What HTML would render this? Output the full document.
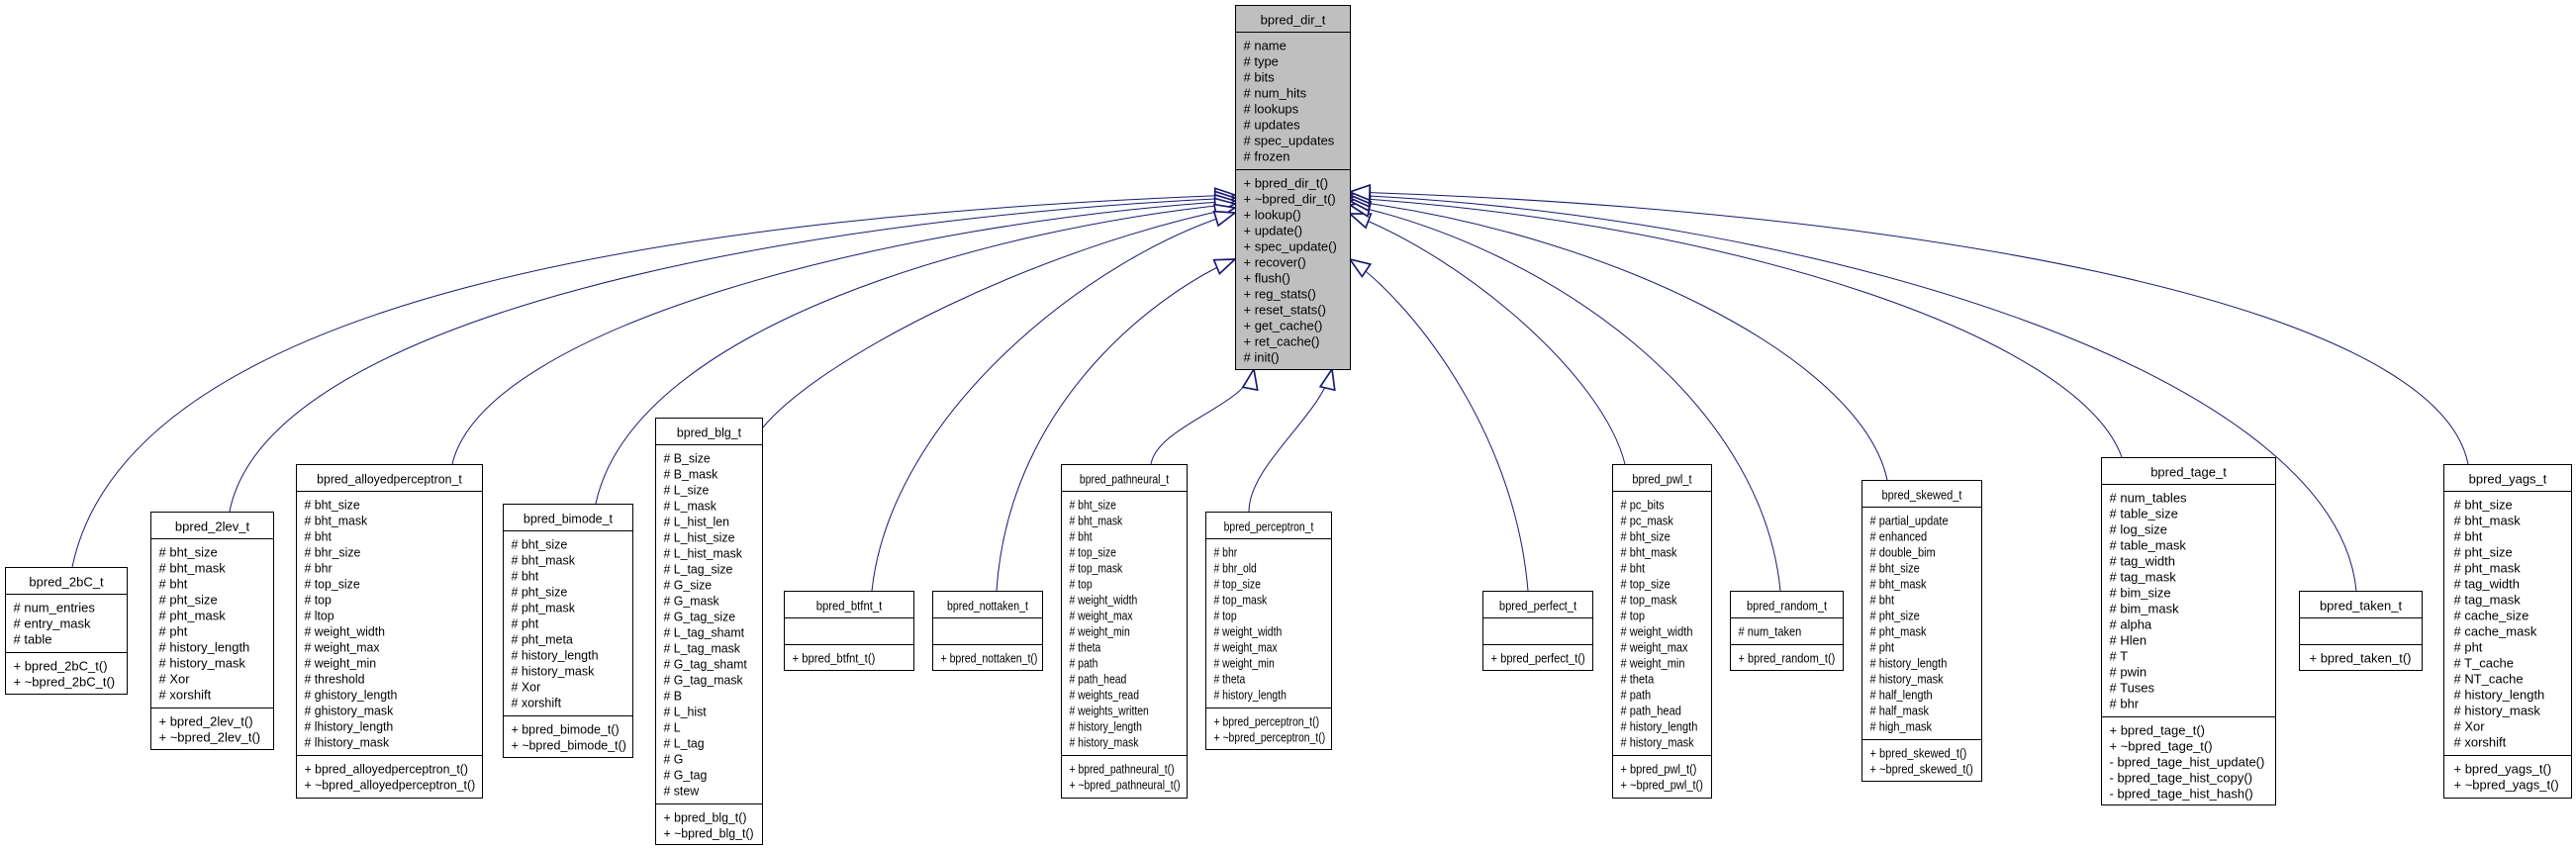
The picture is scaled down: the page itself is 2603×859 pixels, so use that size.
<!DOCTYPE html>
<html><head><meta charset="utf-8"><style>
html,body{margin:0;padding:0;background:#fff;}
svg{display:block;}
text{font-family:"Liberation Sans",Arial,sans-serif;font-size:13px;fill:#000;}
.t{text-anchor:middle;}
rect,.sep{stroke:#000;stroke-width:1;}
rect{fill:#fff;}
.e{fill:none;stroke:#191970;stroke-width:1;}
</style></head><body>
<svg width="2603" height="859" viewBox="0 0 2603 859" xmlns="http://www.w3.org/2000/svg">
<defs>
<marker id="a" markerUnits="userSpaceOnUse" markerWidth="30" markerHeight="30" refX="0" refY="0" orient="auto" viewBox="-16 -8 18 16" overflow="visible">
<path d="M0,0 L-12,-4.5 L-12,4.5 Z" fill="#fff" stroke="#191970" stroke-width="1"/>
</marker>
</defs>

<path class="e" marker-end="url(#a)" d="M73,573 C132,292 719,217 1248,197"/>
<path class="e" marker-end="url(#a)" d="M232,517 C270,320 800,220 1248,200"/>
<path class="e" marker-end="url(#a)" d="M457,469 C490,330 900,225 1248,203"/>
<path class="e" marker-end="url(#a)" d="M602,509 C640,330 1000,230 1248,206"/>
<path class="e" marker-end="url(#a)" d="M770,433 C830,360 1050,250 1248,210"/>
<path class="e" marker-end="url(#a)" d="M881,597 C900,420 1100,260 1248,215"/>
<path class="e" marker-end="url(#a)" d="M1007,597 C1020,400 1180,290 1248,262"/>
<path class="e" marker-end="url(#a)" d="M1163,469 C1170,430 1260,410 1267,373"/>
<path class="e" marker-end="url(#a)" d="M1262,517 C1262,470 1335,420 1346,373"/>
<path class="e" marker-end="url(#a)" d="M1544,597 C1530,430 1420,300 1364,262"/>
<path class="e" marker-end="url(#a)" d="M1642,469 C1620,380 1480,260 1364,216"/>
<path class="e" marker-end="url(#a)" d="M1799,597 C1780,400 1560,250 1364,207"/>
<path class="e" marker-end="url(#a)" d="M1907,485 C1880,360 1620,235 1364,203"/>
<path class="e" marker-end="url(#a)" d="M2144,462 C2100,340 1750,225 1364,200"/>
<path class="e" marker-end="url(#a)" d="M2381,597 C2360,380 1850,220 1364,197"/>
<path class="e" marker-end="url(#a)" d="M2494,469 C2460,300 1900,210 1364,194"/>

<!-- bpred_dir_t -->
<g transform="translate(1248.5,5.5)">
<rect width="116" height="368" style="fill:#bfbfbf"/>
<line class="sep" x1="0" y1="27" x2="116" y2="27"/><line class="sep" x1="0" y1="166" x2="116" y2="166"/>
<text class="t" x="58" y="19">bpred_dir_t</text>
<text x="8" y="45"># name</text><text x="8" y="61"># type</text><text x="8" y="77"># bits</text><text x="8" y="93"># num_hits</text><text x="8" y="109"># lookups</text><text x="8" y="125"># updates</text><text x="8" y="141"># spec_updates</text><text x="8" y="157"># frozen</text>
<text x="8" y="184">+ bpred_dir_t()</text><text x="8" y="200">+ ~bpred_dir_t()</text><text x="8" y="216">+ lookup()</text><text x="8" y="232">+ update()</text><text x="8" y="248">+ spec_update()</text><text x="8" y="264">+ recover()</text><text x="8" y="280">+ flush()</text><text x="8" y="296">+ reg_stats()</text><text x="8" y="312">+ reset_stats()</text><text x="8" y="328">+ get_cache()</text><text x="8" y="344">+ ret_cache()</text><text x="8" y="360"># init()</text>
</g>

<!-- 2bC -->
<g transform="translate(5.5,573.5)">
<rect width="123" height="128"/>
<line class="sep" x1="0" y1="27" x2="123" y2="27"/><line class="sep" x1="0" y1="86" x2="123" y2="86"/>
<text class="t" x="61.5" y="19">bpred_2bC_t</text>
<text x="8" y="45"># num_entries</text><text x="8" y="61"># entry_mask</text><text x="8" y="77"># table</text>
<text x="8" y="104">+ bpred_2bC_t()</text><text x="8" y="120">+ ~bpred_2bC_t()</text>
</g>

<!-- 2lev -->
<g transform="translate(152.5,517.5)">
<rect width="124" height="240"/>
<line class="sep" x1="0" y1="27" x2="124" y2="27"/><line class="sep" x1="0" y1="198" x2="124" y2="198"/>
<text class="t" x="62" y="19">bpred_2lev_t</text>
<text x="8" y="45"># bht_size</text><text x="8" y="61"># bht_mask</text><text x="8" y="77"># bht</text><text x="8" y="93"># pht_size</text><text x="8" y="109"># pht_mask</text><text x="8" y="125"># pht</text><text x="8" y="141"># history_length</text><text x="8" y="157"># history_mask</text><text x="8" y="173"># Xor</text><text x="8" y="189"># xorshift</text>
<text x="8" y="216">+ bpred_2lev_t()</text><text x="8" y="232">+ ~bpred_2lev_t()</text>
</g>

<!-- alloyed s=.95 -->
<g transform="translate(299.5,469.5)">
<rect width="188" height="337"/>
<line class="sep" x1="0" y1="27" x2="188" y2="27"/><line class="sep" x1="0" y1="294" x2="188" y2="294"/>
<g transform="scale(0.95,1)">
<text class="t" x="98.9" y="19">bpred_alloyedperceptron_t</text>
<text x="8.4" y="45"># bht_size</text><text x="8.4" y="61"># bht_mask</text><text x="8.4" y="77"># bht</text><text x="8.4" y="93"># bhr_size</text><text x="8.4" y="109"># bhr</text><text x="8.4" y="125"># top_size</text><text x="8.4" y="141"># top</text><text x="8.4" y="157"># ltop</text><text x="8.4" y="173"># weight_width</text><text x="8.4" y="189"># weight_max</text><text x="8.4" y="205"># weight_min</text><text x="8.4" y="221"># threshold</text><text x="8.4" y="237"># ghistory_length</text><text x="8.4" y="253"># ghistory_mask</text><text x="8.4" y="269"># lhistory_length</text><text x="8.4" y="285"># lhistory_mask</text>
<text x="8.4" y="312">+ bpred_alloyedperceptron_t()</text><text x="8.4" y="328">+ ~bpred_alloyedperceptron_t()</text>
</g></g>

<!-- bimode s=.96 -->
<g transform="translate(508.5,509.5)">
<rect width="131" height="256"/>
<line class="sep" x1="0" y1="27" x2="131" y2="27"/><line class="sep" x1="0" y1="214" x2="131" y2="214"/>
<g transform="scale(0.96,1)">
<text class="t" x="68.2" y="19">bpred_bimode_t</text>
<text x="8.3" y="45"># bht_size</text><text x="8.3" y="61"># bht_mask</text><text x="8.3" y="77"># bht</text><text x="8.3" y="93"># pht_size</text><text x="8.3" y="109"># pht_mask</text><text x="8.3" y="125"># pht</text><text x="8.3" y="141"># pht_meta</text><text x="8.3" y="157"># history_length</text><text x="8.3" y="173"># history_mask</text><text x="8.3" y="189"># Xor</text><text x="8.3" y="205"># xorshift</text>
<text x="8.3" y="232">+ bpred_bimode_t()</text><text x="8.3" y="248">+ ~bpred_bimode_t()</text>
</g></g>

<!-- blg s=.95 -->
<g transform="translate(662.5,422.5)">
<rect width="108" height="431"/>
<line class="sep" x1="0" y1="27" x2="108" y2="27"/><line class="sep" x1="0" y1="390" x2="108" y2="390"/>
<g transform="scale(0.95,1)">
<text class="t" x="56.8" y="19">bpred_blg_t</text>
<text x="8.4" y="45"># B_size</text><text x="8.4" y="61"># B_mask</text><text x="8.4" y="77"># L_size</text><text x="8.4" y="93"># L_mask</text><text x="8.4" y="109"># L_hist_len</text><text x="8.4" y="125"># L_hist_size</text><text x="8.4" y="141"># L_hist_mask</text><text x="8.4" y="157"># L_tag_size</text><text x="8.4" y="173"># G_size</text><text x="8.4" y="189"># G_mask</text><text x="8.4" y="205"># G_tag_size</text><text x="8.4" y="221"># L_tag_shamt</text><text x="8.4" y="237"># L_tag_mask</text><text x="8.4" y="253"># G_tag_shamt</text><text x="8.4" y="269"># G_tag_mask</text><text x="8.4" y="285"># B</text><text x="8.4" y="301"># L_hist</text><text x="8.4" y="317"># L</text><text x="8.4" y="333"># L_tag</text><text x="8.4" y="349"># G</text><text x="8.4" y="365"># G_tag</text><text x="8.4" y="381"># stew</text>
<text x="8.4" y="408">+ bpred_blg_t()</text><text x="8.4" y="424">+ ~bpred_blg_t()</text>
</g></g>

<!-- btfnt s=.87 -->
<g transform="translate(792.5,597.5)">
<rect width="131" height="80"/>
<line class="sep" x1="0" y1="27" x2="131" y2="27"/><line class="sep" x1="0" y1="54" x2="131" y2="54"/>
<g transform="scale(0.87,1)">
<text class="t" x="75.3" y="19">bpred_btfnt_t</text>
<text x="9.2" y="72">+ bpred_btfnt_t()</text>
</g></g>

<!-- nottaken s=.81 -->
<g transform="translate(942.5,597.5)">
<rect width="111" height="80"/>
<line class="sep" x1="0" y1="27" x2="111" y2="27"/><line class="sep" x1="0" y1="54" x2="111" y2="54"/>
<g transform="scale(0.81,1)">
<text class="t" x="68.5" y="19">bpred_nottaken_t</text>
<text x="9.9" y="72">+ bpred_nottaken_t()</text>
</g></g>

<!-- pathneural s=.8 -->
<g transform="translate(1072.5,469.5)">
<rect width="127" height="337"/>
<line class="sep" x1="0" y1="27" x2="127" y2="27"/><line class="sep" x1="0" y1="294" x2="127" y2="294"/>
<g transform="scale(0.8,1)">
<text class="t" x="79.4" y="19">bpred_pathneural_t</text>
<text x="10" y="45"># bht_size</text><text x="10" y="61"># bht_mask</text><text x="10" y="77"># bht</text><text x="10" y="93"># top_size</text><text x="10" y="109"># top_mask</text><text x="10" y="125"># top</text><text x="10" y="141"># weight_width</text><text x="10" y="157"># weight_max</text><text x="10" y="173"># weight_min</text><text x="10" y="189"># theta</text><text x="10" y="205"># path</text><text x="10" y="221"># path_head</text><text x="10" y="237"># weights_read</text><text x="10" y="253"># weights_written</text><text x="10" y="269"># history_length</text><text x="10" y="285"># history_mask</text>
<text x="10" y="312">+ bpred_pathneural_t()</text><text x="10" y="328">+ ~bpred_pathneural_t()</text>
</g></g>

<!-- perceptron s=.8 -->
<g transform="translate(1218.5,517.5)">
<rect width="127" height="240"/>
<line class="sep" x1="0" y1="27" x2="127" y2="27"/><line class="sep" x1="0" y1="198" x2="127" y2="198"/>
<g transform="scale(0.8,1)">
<text class="t" x="79.4" y="19">bpred_perceptron_t</text>
<text x="10" y="45"># bhr</text><text x="10" y="61"># bhr_old</text><text x="10" y="77"># top_size</text><text x="10" y="93"># top_mask</text><text x="10" y="109"># top</text><text x="10" y="125"># weight_width</text><text x="10" y="141"># weight_max</text><text x="10" y="157"># weight_min</text><text x="10" y="173"># theta</text><text x="10" y="189"># history_length</text>
<text x="10" y="216">+ bpred_perceptron_t()</text><text x="10" y="232">+ ~bpred_perceptron_t()</text>
</g></g>

<!-- perfect s=.86 -->
<g transform="translate(1498.5,597.5)">
<rect width="111" height="80"/>
<line class="sep" x1="0" y1="27" x2="111" y2="27"/><line class="sep" x1="0" y1="54" x2="111" y2="54"/>
<g transform="scale(0.86,1)">
<text class="t" x="64.5" y="19">bpred_perfect_t</text>
<text x="9.3" y="72">+ bpred_perfect_t()</text>
</g></g>

<!-- pwl s=.85 -->
<g transform="translate(1629.5,469.5)">
<rect width="100" height="337"/>
<line class="sep" x1="0" y1="27" x2="100" y2="27"/><line class="sep" x1="0" y1="294" x2="100" y2="294"/>
<g transform="scale(0.85,1)">
<text class="t" x="58.8" y="19">bpred_pwl_t</text>
<text x="9.4" y="45"># pc_bits</text><text x="9.4" y="61"># pc_mask</text><text x="9.4" y="77"># bht_size</text><text x="9.4" y="93"># bht_mask</text><text x="9.4" y="109"># bht</text><text x="9.4" y="125"># top_size</text><text x="9.4" y="141"># top_mask</text><text x="9.4" y="157"># top</text><text x="9.4" y="173"># weight_width</text><text x="9.4" y="189"># weight_max</text><text x="9.4" y="205"># weight_min</text><text x="9.4" y="221"># theta</text><text x="9.4" y="237"># path</text><text x="9.4" y="253"># path_head</text><text x="9.4" y="269"># history_length</text><text x="9.4" y="285"># history_mask</text>
<text x="9.4" y="312">+ bpred_pwl_t()</text><text x="9.4" y="328">+ ~bpred_pwl_t()</text>
</g></g>

<!-- random s=.85 -->
<g transform="translate(1748.5,597.5)">
<rect width="114" height="80"/>
<line class="sep" x1="0" y1="27" x2="114" y2="27"/><line class="sep" x1="0" y1="54" x2="114" y2="54"/>
<g transform="scale(0.85,1)">
<text class="t" x="67.1" y="19">bpred_random_t</text>
<text x="9.4" y="45"># num_taken</text>
<text x="9.4" y="72">+ bpred_random_t()</text>
</g></g>

<!-- skewed s=.85 -->
<g transform="translate(1881.5,485.5)">
<rect width="121" height="304"/>
<line class="sep" x1="0" y1="27" x2="121" y2="27"/><line class="sep" x1="0" y1="262" x2="121" y2="262"/>
<g transform="scale(0.85,1)">
<text class="t" x="71.2" y="19">bpred_skewed_t</text>
<text x="9.4" y="45"># partial_update</text><text x="9.4" y="61"># enhanced</text><text x="9.4" y="77"># double_bim</text><text x="9.4" y="93"># bht_size</text><text x="9.4" y="109"># bht_mask</text><text x="9.4" y="125"># bht</text><text x="9.4" y="141"># pht_size</text><text x="9.4" y="157"># pht_mask</text><text x="9.4" y="173"># pht</text><text x="9.4" y="189"># history_length</text><text x="9.4" y="205"># history_mask</text><text x="9.4" y="221"># half_length</text><text x="9.4" y="237"># half_mask</text><text x="9.4" y="253"># high_mask</text>
<text x="9.4" y="280">+ bpred_skewed_t()</text><text x="9.4" y="296">+ ~bpred_skewed_t()</text>
</g></g>

<!-- tage -->
<g transform="translate(2123.5,462.5)">
<rect width="176" height="351"/>
<line class="sep" x1="0" y1="27" x2="176" y2="27"/><line class="sep" x1="0" y1="262" x2="176" y2="262"/>
<text class="t" x="88" y="19">bpred_tage_t</text>
<text x="8" y="45"># num_tables</text><text x="8" y="61"># table_size</text><text x="8" y="77"># log_size</text><text x="8" y="93"># table_mask</text><text x="8" y="109"># tag_width</text><text x="8" y="125"># tag_mask</text><text x="8" y="141"># bim_size</text><text x="8" y="157"># bim_mask</text><text x="8" y="173"># alpha</text><text x="8" y="189"># Hlen</text><text x="8" y="205"># T</text><text x="8" y="221"># pwin</text><text x="8" y="237"># Tuses</text><text x="8" y="253"># bhr</text>
<text x="8" y="280">+ bpred_tage_t()</text><text x="8" y="296">+ ~bpred_tage_t()</text><text x="8" y="312">- bpred_tage_hist_update()</text><text x="8" y="328">- bpred_tage_hist_copy()</text><text x="8" y="344">- bpred_tage_hist_hash()</text>
</g>

<!-- taken -->
<g transform="translate(2323.5,597.5)">
<rect width="124" height="80"/>
<line class="sep" x1="0" y1="27" x2="124" y2="27"/><line class="sep" x1="0" y1="54" x2="124" y2="54"/>
<text class="t" x="62" y="19">bpred_taken_t</text>
<text x="10" y="72">+ bpred_taken_t()</text>
</g>

<!-- yags -->
<g transform="translate(2469.5,469.5)">
<rect width="129" height="337"/>
<line class="sep" x1="0" y1="27" x2="129" y2="27"/><line class="sep" x1="0" y1="294" x2="129" y2="294"/>
<text class="t" x="64.5" y="19">bpred_yags_t</text>
<text x="10" y="45"># bht_size</text><text x="10" y="61"># bht_mask</text><text x="10" y="77"># bht</text><text x="10" y="93"># pht_size</text><text x="10" y="109"># pht_mask</text><text x="10" y="125"># tag_width</text><text x="10" y="141"># tag_mask</text><text x="10" y="157"># cache_size</text><text x="10" y="173"># cache_mask</text><text x="10" y="189"># pht</text><text x="10" y="205"># T_cache</text><text x="10" y="221"># NT_cache</text><text x="10" y="237"># history_length</text><text x="10" y="253"># history_mask</text><text x="10" y="269"># Xor</text><text x="10" y="285"># xorshift</text>
<text x="10" y="312">+ bpred_yags_t()</text><text x="10" y="328">+ ~bpred_yags_t()</text>
</g>
</svg>
</body></html>
